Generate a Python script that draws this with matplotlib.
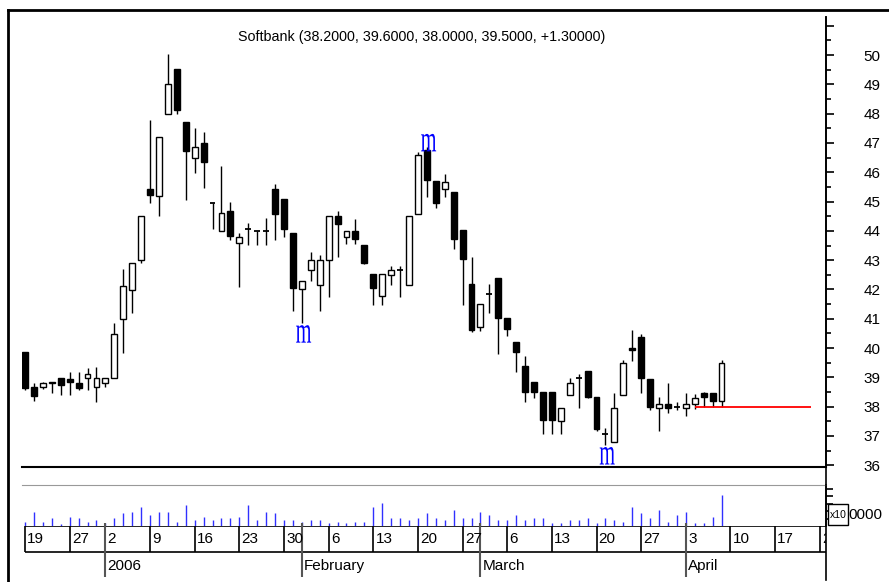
import matplotlib
matplotlib.use("Agg")
import matplotlib.pyplot as plt
import matplotlib.transforms as mtransforms
from matplotlib.patches import Rectangle, PathPatch
from matplotlib.lines import Line2D
from matplotlib.textpath import TextPath
from matplotlib.font_manager import FontProperties

# daily OHLC, 19 Dec 2005 .. 7 Apr 2006 (trading-day index 0..78)
opens = [39.88, 38.68, 38.68, 38.83, 38.99, 38.93, 38.82, 38.97, 38.68, 38.80,
         38.97, 40.98, 41.98, 43.00, 45.42, 45.19, 48.00, 49.51, 47.73, 46.48,
         46.99, 44.96, 43.99, 44.69, 43.57, 44.06, 44.00, 44.00, 45.42, 45.09,
         43.92, 42.00, 42.66, 42.15, 43.00, 44.52, 43.80, 44.00, 43.52, 42.52,
         41.78, 42.49, 42.66, 42.15, 44.56, 46.76, 45.70, 45.42, 45.32, 44.03,
         42.18, 40.71, 41.83, 42.40, 41.01, 40.22, 39.39, 38.83, 38.49, 38.49,
         37.52, 38.40, 38.99, 39.22, 38.32, 37.06, 36.81, 38.40, 40.00, 40.39,
         38.93, 37.97, 38.09, 38.00, 37.97, 38.08, 38.48, 38.48, 38.20]
highs = [39.88, 38.82, 38.84, 38.83, 38.99, 39.19, 39.19, 39.31, 39.34, 38.99,
         40.87, 42.69, 42.90, 44.52, 47.78, 47.21, 50.02, 49.51, 47.73, 47.50,
         47.39, 44.96, 46.21, 44.97, 43.92, 44.28, 44.00, 44.43, 45.59, 45.09,
         43.92, 42.30, 43.29, 43.18, 44.52, 44.69, 44.00, 44.40, 43.52, 42.52,
         42.52, 42.80, 42.80, 44.52, 46.70, 46.85, 45.70, 45.93, 45.32, 44.03,
         43.12, 41.50, 42.18, 42.40, 41.01, 40.22, 39.73, 38.83, 38.49, 38.49,
         37.97, 38.99, 39.10, 39.22, 38.32, 37.26, 38.48, 39.59, 40.62, 40.48,
         38.93, 38.32, 38.82, 38.17, 38.48, 38.43, 38.50, 38.48, 39.60]
lows = [38.57, 38.19, 38.59, 38.48, 38.40, 38.40, 38.57, 38.57, 38.17, 38.68,
        38.97, 39.84, 41.21, 42.89, 44.94, 44.51, 48.00, 48.00, 45.05, 45.96,
        45.45, 44.05, 43.99, 43.69, 42.10, 43.52, 43.52, 43.52, 43.69, 43.80,
        41.28, 40.85, 42.30, 41.28, 41.75, 43.12, 43.55, 43.55, 42.87, 41.47,
        41.47, 42.15, 41.75, 42.15, 44.56, 45.17, 44.77, 45.17, 43.37, 41.47,
        40.56, 40.59, 41.21, 39.80, 40.41, 39.19, 38.17, 38.28, 37.06, 37.06,
        37.06, 38.40, 37.94, 38.28, 37.18, 36.69, 36.81, 38.40, 39.57, 38.46,
        37.89, 37.18, 37.77, 37.89, 37.68, 37.91, 38.00, 38.00, 38.00]
closes = [38.63, 38.36, 38.82, 38.80, 38.74, 38.85, 38.63, 39.10, 38.97, 38.97,
          40.48, 42.12, 42.89, 44.52, 45.22, 47.21, 49.00, 48.12, 46.74, 46.87,
          46.34, 44.96, 44.60, 43.82, 43.78, 44.06, 44.00, 44.00, 44.56, 44.06,
          42.04, 42.30, 43.00, 43.00, 44.52, 44.22, 44.00, 43.72, 42.91, 42.04,
          42.52, 42.66, 42.66, 44.52, 46.59, 45.74, 44.94, 45.68, 43.71, 43.04,
          40.62, 41.50, 41.83, 41.04, 40.64, 39.85, 38.51, 38.51, 37.55, 37.55,
          37.97, 38.82, 38.99, 38.34, 37.23, 37.06, 37.97, 39.48, 39.93, 38.97,
          38.00, 38.08, 37.97, 38.00, 38.08, 38.31, 38.34, 38.20, 39.50]
volumes = [3900, 12900, 3900, 6900, 1500, 8400, 6900, 3900, 5400, 3000,
           6900, 11400, 12900, 17400, 9900, 12900, 12900, 3900, 18900, 5400,
           8400, 5400, 6900, 6900, 8400, 18900, 5400, 12900, 11400, 5400,
           5400, 3900, 5400, 5400, 2400, 3900, 2400, 3900, 3900, 17400,
           20400, 6900, 6900, 5400, 6900, 11400, 6900, 5400, 14400, 6900,
           6900, 12900, 9900, 5400, 5400, 9900, 5400, 6900, 6900, 2400,
           2400, 5400, 5400, 6900, 2400, 6900, 5400, 3900, 17400, 11400,
           6900, 14400, 3900, 9900, 12900, 2400, 2400, 8400, 27900]

week_ticks = [0, 5, 9, 14, 19, 24, 29, 34, 39, 44, 49, 54, 59, 64, 69, 74, 79, 84, 89]
week_labels = ["19", "27", "2", "9", "16", "23", "30", "6", "13", "20", "27",
               "6", "13", "20", "27", "3", "10", "17", "24"]
month_ticks = [9, 31, 51, 74]
month_labels = ["2006", "February", "March", "April"]

# local extremes marked with "m"
marks_low = [31, 65]
marks_high = [45]
support_level = 38.0
support_span = (75, 88)

title = "Softbank (38.2000, 39.6000, 38.0000, 39.5000, +1.30000)"

plt.rcParams["font.family"] = ["Liberation Sans Narrow", "Liberation Sans", "DejaVu Sans"]
W, H = 889, 582
fig = plt.figure(figsize=(W / 100, H / 100), dpi=100)


def fbox(x0, y0, x1, y1):
    # pixel box (top-left origin) -> figure fraction rect
    return [x0 / W, 1 - y1 / H, (x1 - x0) / W, (y1 - y0) / H]


XL, XR = 22, 826
xlim = (-0.34, 89.7)

ax = fig.add_axes(fbox(XL, 17, XR, 467))
for s in ["left", "top"]:
    ax.spines[s].set_visible(False)
ax.spines["bottom"].set_linewidth(1.5)
ax.spines["right"].set_linewidth(1.2)
ax.set_xticks([])
ax.yaxis.tick_right()
ax.set_yticks(range(36, 52))
ax.set_yticklabels([str(v) if v <= 50 else "" for v in range(36, 52)])
ax.set_yticks([v + 0.5 for v in range(36, 51)], minor=True)
ax.tick_params(axis="y", which="major", length=5.8, width=1.2, pad=21, labelsize=11)
ax.tick_params(axis="y", which="minor", length=3.6, width=1.2)
ax.set_xlim(*xlim)
ax.set_ylim(35.94, 51.3)

bw = 0.66
for i in range(len(opens)):
    o, h, l, c = opens[i], highs[i], lows[i], closes[i]
    ax.vlines(i, l, h, color="black", lw=1)
    lo, hi = min(o, c), max(o, c)
    if hi - lo < 0.03:
        ax.hlines(o, i - bw / 2, i + bw / 2, color="black", lw=1.3)
    else:
        fc = "white" if c >= o else "black"
        ax.add_patch(Rectangle((i - bw / 2, lo), bw, hi - lo, facecolor=fc,
                               edgecolor="black", lw=1, zorder=3))

ax.hlines(support_level, support_span[0], support_span[1], color="red", lw=1.3, zorder=4)

fig.text(422 / W, 1 - 37 / H, title, ha="center", va="center", fontsize=10.3)

# volume panel
vax = fig.add_axes(fbox(XL, 485, XR, 526))
for s in ["left", "bottom"]:
    vax.spines[s].set_visible(False)
vax.spines["top"].set_color("#999999")
vax.spines["right"].set_linewidth(1.2)
vax.set_xticks([])
vax.yaxis.tick_right()
vax.set_yticks([6750 * k for k in range(1, 6)])
vax.set_yticklabels([""] * 5)
vax.tick_params(axis="y", which="major", length=5.0, width=1.2)
vax.set_xlim(*xlim)
vax.set_ylim(0, 36900)
vax.vlines(range(len(volumes)), 0, volumes, color="#3030ff", lw=1)

# volume scale label: boxed "x10" over "10000"
fig.add_artist(Rectangle((828 / W, 1 - 525 / H), 20 / W, 21 / H, transform=fig.transFigure,
                         facecolor="white", edgecolor="black", lw=1))
fig.text(838 / W, 1 - 515 / H, "x10", ha="center", va="center", fontsize=7.5)
fig.text(848 / W, 1 - 515 / H, "0000", ha="left", va="center", fontsize=11)

# date rows
dax = fig.add_axes(fbox(XL, 526, XR, 580))
dax.set_xlim(*xlim)
dax.set_ylim(0, 1)
dax.axis("off")
split = 28 / 54
dax.hlines([1, split], 0, xlim[1], color="black", lw=1.2)
dax.vlines(week_ticks, split, 1, color="black", lw=1.2)
for t, lab in zip(week_ticks, week_labels):
    dax.text(t + 0.25, (1 + split) / 2, lab, ha="left", va="center",
             fontsize=11, clip_on=True)
dax.vlines(month_ticks, 0.05, 1.05, color="#555555", lw=1.5, clip_on=False)
for t, lab in zip(month_ticks, month_labels):
    dax.text(t + 0.25, split / 2, lab, ha="left", va="center", fontsize=11)

# outer frame and shared right axis line
fig.add_artist(Line2D([8 / W, 8 / W], [0, 1 - 10 / H], color="black", lw=2))
fig.add_artist(Line2D([8 / W, 1], [1 - 10 / H, 1 - 10 / H], color="black", lw=2))
fig.add_artist(Line2D([XR / W, XR / W], [1 - 580 / H, 1 - 17 / H], color="black", lw=1.2))

# "m" markers as stretched serif glyphs
fp = FontProperties(family=["Liberation Serif", "DejaVu Serif"])
glyph = TextPath((0, 0), "m", size=10, prop=fp)
ext = glyph.get_extents()
gw, gh = 15.0, 17.5


def put_m(i, price, above):
    px, py = ax.transData.transform((i + 0.2, price))
    if above:
        base = py - 4
    else:
        base = py - 2 - gh
    tr = (mtransforms.Affine2D()
          .translate(-ext.x0 - ext.width / 2, -ext.y0)
          .scale(gw / ext.width, gh / ext.height)
          .translate(px, base))
    fig.add_artist(PathPatch(glyph, transform=tr, facecolor="#0000ff", lw=0))


for i in marks_low:
    put_m(i, lows[i], False)
for i in marks_high:
    put_m(i, highs[i], True)

fig.savefig("out.png", dpi=100)
